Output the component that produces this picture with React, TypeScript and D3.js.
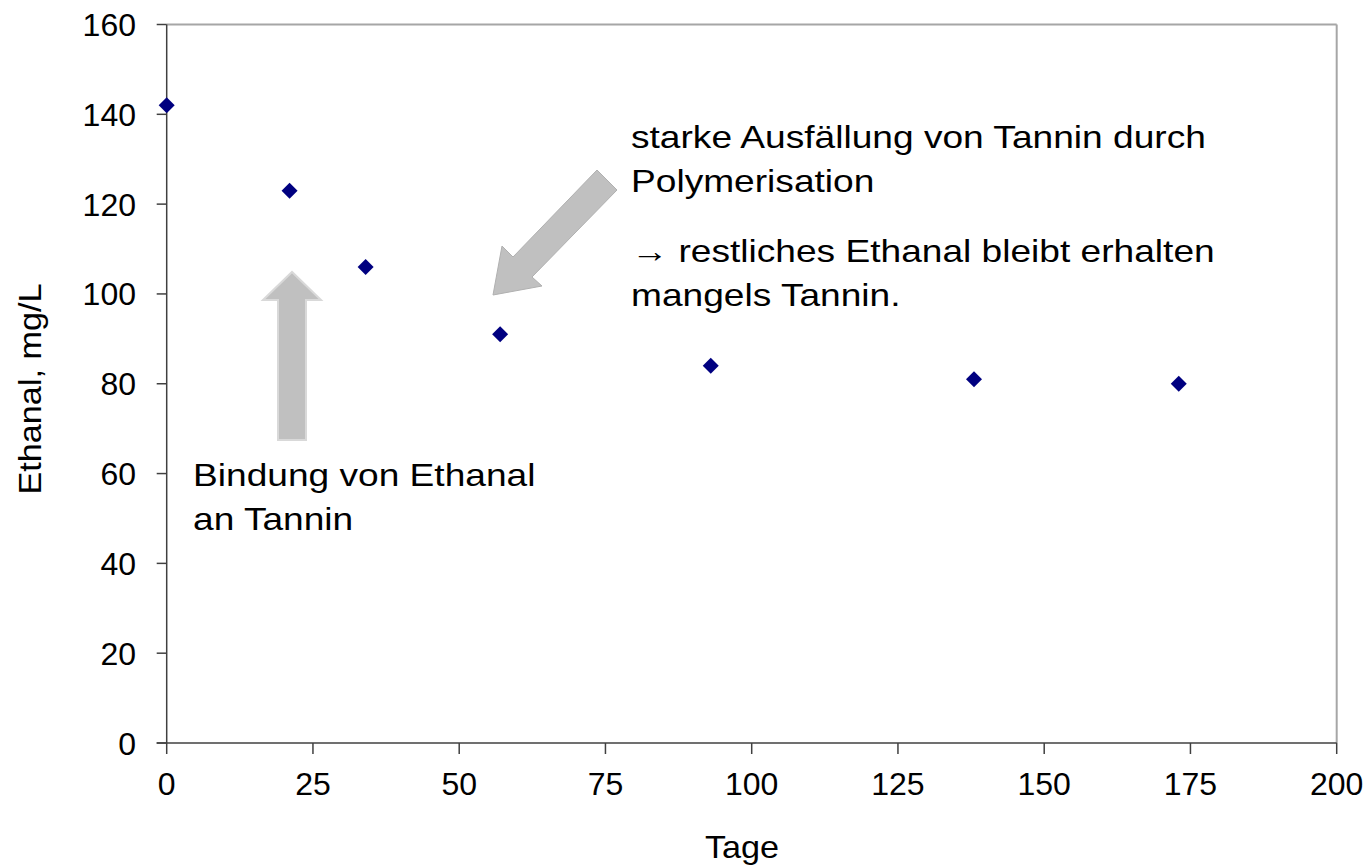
import React from "react";
import * as d3 from "d3";

const days = [0, 21, 34, 57, 93, 138, 173];
const ethanal = [142, 123, 106, 91, 84, 81, 80];
const xTicks = [0, 25, 50, 75, 100, 125, 150, 175, 200];
const yTicks = [0, 20, 40, 60, 80, 100, 120, 140, 160];
const noteRight = [
  "starke Ausfällung von Tannin durch",
  "Polymerisation",
  "→ restliches Ethanal bleibt erhalten",
  "mangels Tannin.",
];
const noteLeft = ["Bindung von Ethanal", "an Tannin"];

const W = 1370;
const H = 867;
const M = { left: 166.7, right: 1336.7, top: 24.5, bottom: 743 };
const FONT = "'Liberation Sans', Arial, sans-serif";
const NOTE_SX = 1.16;
const TITLE_SX = 1.07;

export default function App() {
  const x = d3.scaleLinear().domain([0, 200]).range([M.left, M.right]);
  const y = d3.scaleLinear().domain([0, 160]).range([M.bottom, M.top]);
  const pts = days.map((d, i) => ({ d, v: ethanal[i] }));
  const diamond = "M0,-8L8,0L0,8L-8,0Z";

  const upArrow: [number, number][] = [
    [278, 440], [306, 440], [306, 300], [321, 300], [292, 272], [263, 300], [278, 300],
  ];
  const diagArrow: [number, number][] = [
    [597, 170], [617, 190], [532, 277], [542, 286], [493, 295], [502, 246], [513, 257],
  ];
  const poly = (p: [number, number][]) => "M" + p.map((q) => q.join(",")).join("L") + "Z";

  return (
    <svg
      width={W}
      height={H}
      style={{ position: "absolute", left: 0, top: 0, background: "#fff" }}
      fontFamily={FONT}
    >
      {/* top and right border */}
      <line x1={M.left} x2={M.right} y1={M.top} y2={M.top} stroke="#a6a6a6" strokeWidth={2} />
      <line x1={M.right} x2={M.right} y1={M.top} y2={M.bottom} stroke="#a6a6a6" strokeWidth={2} />
      {/* y axis */}
      <line x1={M.left} x2={M.left} y1={M.top} y2={M.bottom} stroke="#404040" strokeWidth={1.5} />
      {yTicks.map((t) => (
        <g key={"y" + t}>
          <line x1={M.left - 10} x2={M.left} y1={y(t)} y2={y(t)} stroke="#404040" strokeWidth={1.5} />
          <text x={136} y={y(t)} dy="0.36em" textAnchor="end" fontSize={32} fill="#000">
            {t}
          </text>
        </g>
      ))}
      {/* x axis */}
      <line x1={M.left - 10} x2={M.right} y1={M.bottom} y2={M.bottom} stroke="#404040" strokeWidth={1.5} />
      {xTicks.map((t) => (
        <g key={"x" + t}>
          <line x1={x(t)} x2={x(t)} y1={M.bottom} y2={M.bottom + 11} stroke="#404040" strokeWidth={1.5} />
          <text x={x(t)} y={795} textAnchor="middle" fontSize={32} fill="#000">
            {t}
          </text>
        </g>
      ))}
      <text
        transform={`translate(742,858) scale(${TITLE_SX},1)`}
        textAnchor="middle"
        fontSize={32}
        fill="#000"
      >
        Tage
      </text>
      <text
        transform={`translate(41,389) rotate(-90) scale(${TITLE_SX},1)`}
        textAnchor="middle"
        fontSize={32}
        fill="#000"
      >
        Ethanal, mg/L
      </text>

      {/* arrows */}
      <path d={poly(upArrow)} fill="#c0c0c0" stroke="#d9d9d9" strokeWidth={2} />
      <path d={poly(diagArrow)} fill="#c0c0c0" stroke="#b0b0b0" strokeWidth={1} />

      {/* points */}
      {pts.map((p, i) => (
        <path key={i} d={diamond} transform={`translate(${x(p.d)},${y(p.v)})`} fill="#000080" />
      ))}

      {/* annotations */}
      {noteLeft.map((s, i) => (
        <text
          key={"l" + i}
          transform={`translate(193,${486 + i * 44}) scale(${NOTE_SX},1)`}
          fontSize={32}
          fill="#000"
        >
          {s}
        </text>
      ))}
      {noteRight.map((s, i) => (
        <text
          key={"r" + i}
          transform={`translate(631,${148 + i * 44 + (i >= 2 ? 26 : 0)}) scale(${NOTE_SX},1)`}
          fontSize={32}
          fill="#000"
        >
          {s}
        </text>
      ))}
    </svg>
  );
}
